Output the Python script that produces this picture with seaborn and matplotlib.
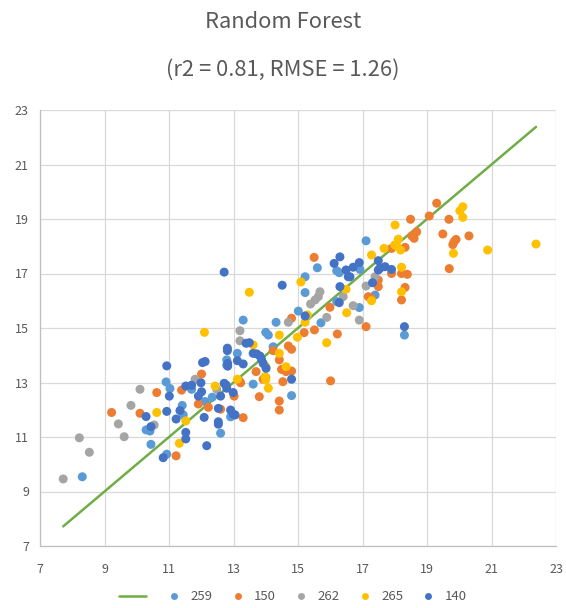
import matplotlib
matplotlib.use("Agg")
import matplotlib.pyplot as plt
from matplotlib.lines import Line2D
import numpy as np
import pandas as pd
import seaborn as sns

# Observed (x) and predicted (y) values per site
obs_259 = [8.31, 10.91, 11.03, 11.41, 12.12, 11.44, 10.29, 10.41, 10.44, 10.93, 12.34, 12.60,
           12.91, 14.80, 13.30, 14.00, 14.08, 13.12, 13.61, 12.79, 12.79, 15.60, 16.20, 16.28,
           15.22, 15.22, 15.01, 14.32, 15.71, 14.23, 17.11, 16.92, 17.39, 16.20, 16.90, 18.30, 11.70]
pred_259 = [9.54, 13.02, 12.78, 12.16, 12.30, 11.81, 11.26, 11.22, 10.73, 10.37, 12.46, 11.14,
            11.74, 12.52, 15.29, 14.84, 14.74, 14.07, 12.94, 13.83, 13.64, 17.21, 17.10, 17.03,
            16.88, 16.30, 15.62, 15.21, 15.19, 14.31, 18.20, 17.15, 16.21, 15.97, 15.75, 14.74, 12.75]

obs_150 = [9.22, 10.10, 10.62, 11.39, 11.91, 12.01, 12.22, 11.22, 12.60, 13.02, 13.30, 13.80,
           14.42, 14.42, 13.18, 13.22, 13.70, 13.92, 14.00, 15.50, 14.80, 15.51, 15.19, 15.99,
           16.22, 14.70, 14.80, 14.23, 14.42, 14.49, 14.63, 14.80, 14.53, 16.01, 19.30, 19.07,
           18.49, 19.68, 19.49, 18.68, 18.53, 18.60, 20.30, 19.90, 19.84, 19.80, 19.69, 17.90,
           18.32, 17.90, 18.21, 18.39, 17.49, 17.49, 18.32, 18.21, 17.18, 17.28, 17.11]
pred_150 = [11.90, 11.87, 12.63, 12.72, 12.21, 13.31, 12.09, 10.31, 12.02, 12.50, 11.71, 12.48,
            12.32, 11.99, 13.06, 12.99, 13.40, 13.12, 13.19, 17.59, 15.36, 14.93, 14.83, 15.76,
            14.78, 14.34, 14.22, 14.17, 13.83, 13.48, 13.40, 13.42, 13.03, 13.06, 19.58, 19.11,
            18.99, 18.99, 18.45, 18.53, 18.38, 18.29, 18.38, 18.25, 18.17, 18.06, 17.18, 17.92,
            17.96, 17.00, 17.00, 16.97, 16.76, 16.52, 16.49, 16.03, 16.15, 16.09, 15.05]

obs_262 = [7.72, 8.22, 8.53, 9.43, 9.61, 9.82, 10.10, 10.54, 11.81, 12.48, 13.20, 13.20,
           15.68, 15.63, 15.53, 15.39, 14.70, 15.89, 16.40, 17.39, 17.11, 16.71, 16.90]
pred_262 = [9.46, 10.97, 10.44, 11.48, 11.01, 12.16, 12.75, 11.44, 13.12, 12.75, 14.90, 14.53,
            16.33, 16.15, 16.03, 15.88, 15.21, 15.39, 16.15, 16.88, 16.54, 15.82, 15.29]

obs_265 = [10.62, 11.52, 11.32, 12.10, 13.61, 12.43, 13.12, 14.08, 14.00, 13.98, 14.00, 13.49,
           15.09, 15.29, 15.22, 14.98, 15.89, 16.51, 16.49, 14.42, 14.42, 14.63, 18.01, 18.11,
           18.06, 18.18, 18.00, 17.67, 17.28, 18.21, 18.21, 17.28, 20.11, 20.02, 20.11, 19.82,
           20.88, 22.38]
pred_265 = [11.90, 11.59, 10.77, 14.84, 14.38, 12.87, 13.12, 12.79, 13.59, 13.21, 13.09, 16.31,
            16.69, 15.48, 15.21, 14.66, 14.46, 15.56, 16.42, 14.74, 14.07, 13.58, 18.78, 18.26,
            18.01, 17.86, 18.05, 17.92, 17.68, 17.23, 16.33, 16.00, 19.45, 19.30, 19.06, 17.74,
            17.86, 18.08]

obs_140 = [10.93, 12.04, 12.12, 11.01, 11.52, 11.70, 11.99, 12.01, 11.91, 10.93, 11.34, 11.22,
           12.09, 10.29, 10.44, 11.52, 11.52, 10.82, 12.17, 12.53, 12.60, 12.53, 12.53, 12.91,
           12.99, 13.05, 12.99, 13.49, 13.39, 12.81, 12.81, 13.12, 13.30, 12.82, 12.82, 13.61,
           13.72, 13.82, 13.87, 13.92, 14.01, 12.71, 12.77, 12.79, 14.80, 12.71, 14.51, 16.12,
           16.30, 16.49, 16.56, 15.22, 16.28, 16.90, 16.71, 16.61, 17.49, 17.54, 17.49, 17.70,
           17.90, 17.31, 18.30, 16.30]
pred_140 = [13.61, 13.73, 13.77, 12.50, 12.87, 12.90, 12.99, 12.66, 12.50, 11.94, 11.97, 11.66,
            11.72, 11.75, 11.38, 11.17, 10.93, 10.24, 10.68, 12.05, 12.50, 11.56, 11.47, 11.99,
            11.84, 11.81, 12.63, 14.46, 14.44, 14.26, 14.17, 13.80, 13.68, 13.70, 13.60, 14.07,
            14.05, 13.97, 13.85, 13.70, 13.52, 12.97, 12.91, 12.79, 13.12, 17.05, 16.57, 17.37,
            17.61, 17.13, 16.88, 15.44, 15.93, 17.40, 17.23, 16.88, 17.47, 17.19, 17.13, 17.25,
            17.15, 16.66, 15.05, 16.52]

sites = ["259", "150", "262", "265", "140"]
colors = ["#5B9BD5", "#ED7D31", "#A5A5A5", "#FFC000", "#4472C4"]
observed = [obs_259, obs_150, obs_262, obs_265, obs_140]
predicted = [pred_259, pred_150, pred_262, pred_265, pred_140]

title = "Random Forest"
subtitle = "(r2 = 0.81, RMSE = 1.26)"
ticks = [7, 9, 11, 13, 15, 17, 19, 21, 23]

df = pd.concat(
    [pd.DataFrame({"observed": o, "predicted": p, "site": s})
     for s, o, p in zip(sites, observed, predicted)],
    ignore_index=True,
)

sns.set_theme(style="white")
plt.rcParams["font.family"] = ["Noto Sans CJK KR", "DejaVu Sans"]

text_grey = "#595959"
grid_grey = "#D9D9D9"

fig = plt.figure(figsize=(5.66, 6.08), dpi=100)
ax = fig.add_axes([40 / 566, 62 / 608, 516 / 566, 436 / 608])

# 1:1 reference line across the observed range
lo, hi = df["observed"].min(), df["observed"].max()
ax.plot([lo, hi], [lo, hi], color="#70AD47", lw=1.8, zorder=2)

sns.scatterplot(data=df, x="observed", y="predicted", hue="site",
                palette=dict(zip(sites, colors)), hue_order=sites,
                s=42, linewidth=0, alpha=1.0, legend=False, ax=ax, zorder=3)

ax.set_xlim(7, 23)
ax.set_ylim(7, 23)
ax.set_xticks(ticks)
ax.set_yticks(ticks)
ax.set_xticklabels([str(t) for t in ticks])
ax.set_yticklabels([str(t) for t in ticks])
ax.set_xlabel("")
ax.set_ylabel("")
ax.grid(True, color=grid_grey, lw=0.9, zorder=0)
ax.set_axisbelow(True)
for side in ["top", "right"]:
    ax.spines[side].set_visible(False)
for side in ["left", "bottom"]:
    ax.spines[side].set_color("#BFBFBF")
    ax.spines[side].set_linewidth(0.9)
ax.tick_params(axis="both", length=0, labelsize=9, labelcolor=text_grey)
ax.tick_params(axis="x", pad=12)
ax.tick_params(axis="y", pad=8)

fig.text(0.5, 1 - 22 / 608, title, ha="center", va="center", fontsize=15.8, color=text_grey)
fig.text(0.5, 1 - 70 / 608, subtitle, ha="center", va="center", fontsize=15.8, color=text_grey)

handles = [Line2D([0], [0], color="#70AD47", lw=1.8)]
handles += [Line2D([0], [0], marker="o", ls="", markersize=5, markerfacecolor=c,
                   markeredgewidth=0) for c in colors]
labels = [""] + sites
fig.legend(handles, labels, loc="center", bbox_to_anchor=(293 / 566, 1 - 597 / 608), ncol=6,
           frameon=False, fontsize=9.5, labelcolor=text_grey, handlelength=2.0,
           columnspacing=0.9, handletextpad=0.25)

fig.savefig("out.png", dpi=100)
